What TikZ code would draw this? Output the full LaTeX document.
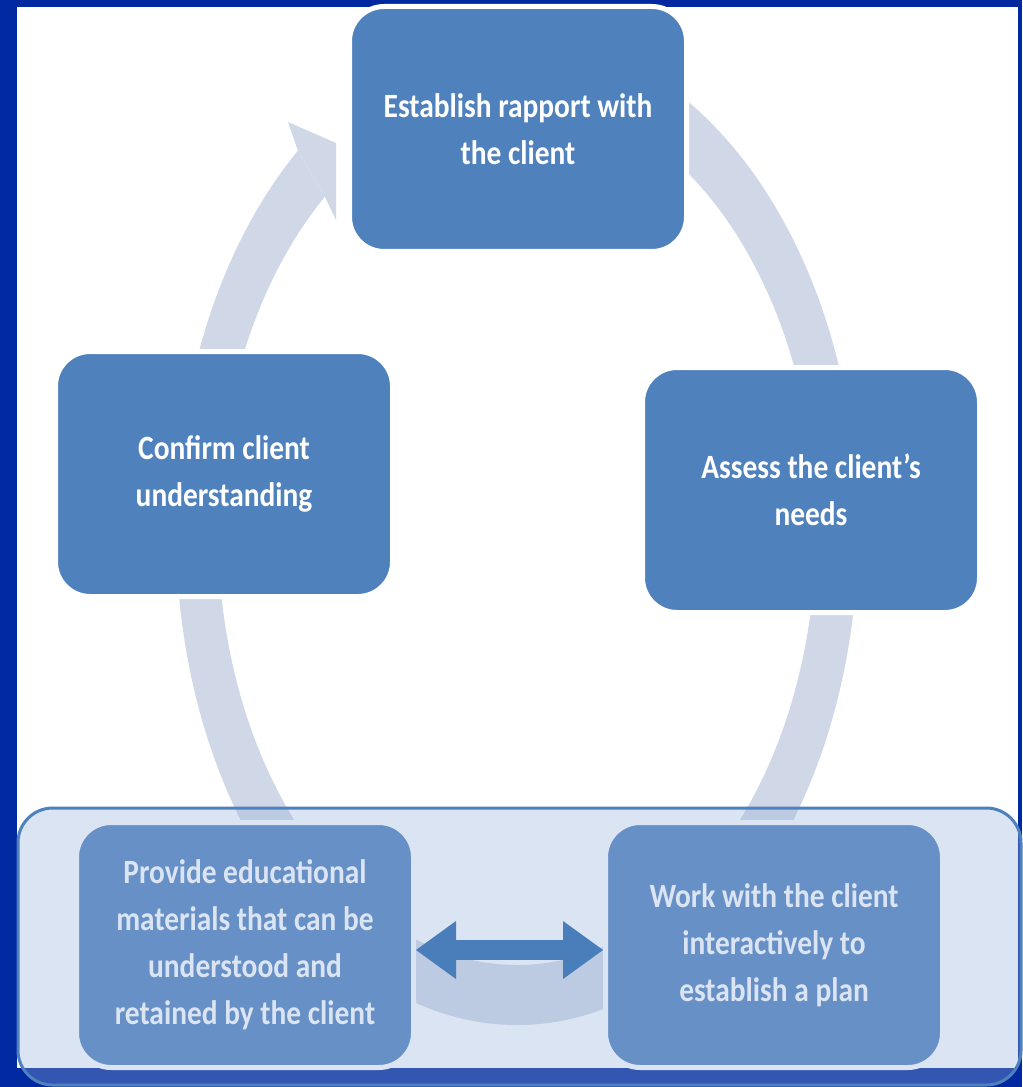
\documentclass[tikz,border=0pt]{standalone}
\usepackage{fontspec}
\newfontfamily\calibfont{Carlito}[FakeStretch=0.865]
\usepackage{tikz}
\usetikzlibrary{arrows.meta,calc}

\definecolor{frameblue}{RGB}{0,40,160}
\definecolor{boxblue}{RGB}{79,129,189}
\definecolor{ringgray}{RGB}{208,216,232}
\definecolor{panelblue}{RGB}{152,176,217}
\definecolor{linkblue}{RGB}{74,126,187}

\begin{document}
\begin{tikzpicture}[x=0.75pt,y=-0.75pt,
  stepbox/.style={rectangle,rounded corners=26pt,fill=boxblue,draw=white,line width=3.75pt,
    minimum width=252.75pt,minimum height=183.75pt,inner sep=0pt,align=center,text=white,
    font=\calibfont\bfseries\fontsize{25.5pt}{35.25pt}\selectfont},
  panel/.style={fill=panelblue,fill opacity=0.34,draw=boxblue,line width=2.25pt,rounded corners=26pt},
  link/.style={draw=linkblue,line width=15pt,
    {Triangle[length=30pt,width=43.5pt,line width=0pt]}-{Triangle[length=30pt,width=43.5pt,line width=0pt]}}]

\useasboundingbox (0,0) rectangle (1022,1087);
\fill[frameblue] (0,0) rectangle (1022,1087);
\fill[white] (17,7) rectangle (1018,1068);

\coordinate (c) at (517,530);
\fill[ringgray] (c) ++(-90:341 and 495) arc[start angle=-90,end angle=230,x radius=341,y radius=495]
  -- ($(c)+(230:299 and 435)$) arc[start angle=230,end angle=-90,x radius=299,y radius=435] -- cycle;
\fill[ringgray] (298,151) -- (288,122) -- (336,143) -- (336,220) -- (325,197) -- cycle;


\node[stepbox] at (518,129) (rapport) {Establish rapport with\\the client};
\node[stepbox] at (811,490) (assess) {Assess the client’s\\needs};
\node[stepbox] at (224,474) (confirm) {Confirm client\\understanding};
\node[stepbox] at (245,945) (provide) {Provide educational\\materials that can be\\understood and\\retained by the client};
\node[stepbox] at (774,945) (workplan) {Work with the client\\interactively to\\establish a plan};


\draw[panel] (18,808) rectangle (1021,1085);

\draw[link] ([yshift=-3.75pt]provide.east) -- ([yshift=-3.75pt]workplan.west);

\end{tikzpicture}
\end{document}
